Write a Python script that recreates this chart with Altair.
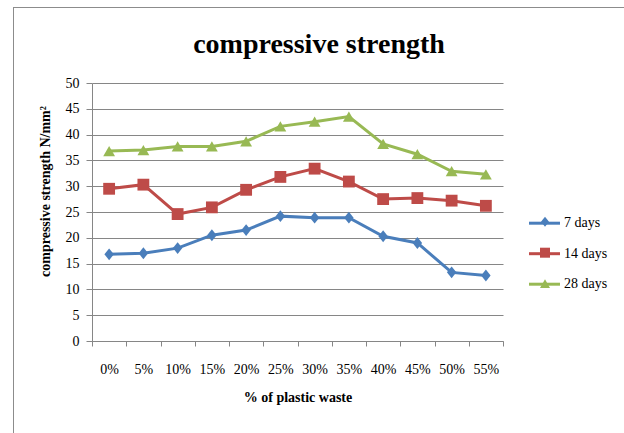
import altair as alt
import pandas as pd

# Plastic waste replacement levels (x categories)
levels = ["0%", "5%", "10%", "15%", "20%", "25%", "30%", "35%", "40%", "45%", "50%", "55%"]

# Compressive strength (N/mm²) at each curing age
series_names = ["7 days", "14 days", "28 days"]
strength_7 = [16.8, 17.0, 18.0, 20.5, 21.5, 24.2, 23.9, 23.9, 20.3, 19.0, 13.3, 12.7]
strength_14 = [29.5, 30.3, 24.6, 25.9, 29.3, 31.8, 33.4, 30.9, 27.5, 27.7, 27.2, 26.2]
strength_28 = [36.8, 37.0, 37.7, 37.7, 38.7, 41.6, 42.5, 43.5, 38.2, 36.2, 32.9, 32.3]

y_ticks = [0, 5, 10, 15, 20, 25, 30, 35, 40, 45, 50]

colors = ["#4A7EBB", "#BE4B48", "#98B954"]
marker_shapes = ["M0,-1L0.8,0L0,1L-0.8,0Z", "square", "triangle-up"]

rows = []
for name, vals in zip(series_names, [strength_7, strength_14, strength_28]):
    for lvl, v in zip(levels, vals):
        rows.append({"level": lvl, "series": name, "value": v})
df = pd.DataFrame(rows)

FONT = "Liberation Serif"

x_enc = alt.X(
    "level:N",
    sort=levels,
    scale=alt.Scale(paddingInner=0, paddingOuter=0),
    axis=alt.Axis(
        title="% of plastic waste",
        labelAngle=0,
        tickBand="extent",
        tickSize=5,
        labelPadding=16,
        titlePadding=14,
        titleFontWeight="bold",
        titleFontSize=14,
        titleFont=FONT,
    ),
)
y_enc = alt.Y(
    "value:Q",
    scale=alt.Scale(domain=[0, 50], nice=False),
    axis=alt.Axis(
        title="compressive strength N/mm²",
        values=y_ticks,
        tickCount=11,
        tickSize=6,
        labelPadding=7,
        labelOverlap=False,
        grid=True,
        titleFontWeight="bold",
        titleFontSize=14,
        titleFont=FONT,
        titleAngle=270,
        titleX=-47,
        titleY=108,
        titleAlign="center",
        titleBaseline="middle",
    ),
)

# line legend (coloured strokes + labels)
line_legend = alt.Legend(
    title=None,
    orient="none",
    legendX=435.5,
    legendY=123.2,
    padding=0,
    rowPadding=6.5,
    symbolSize=961,
    symbolStrokeWidth=3,
    labelOffset=2.5,
    labelFont=FONT,
    labelFontSize=14,
    labelColor="#000000",
)

# marker legend drawn over the middle of each legend line (no labels of its own)
marker_legend = alt.Legend(
    title=None,
    orient="none",
    legendX=446,
    legendY=131.7,
    padding=0,
    rowPadding=17,
    symbolSize=100,
    symbolStrokeWidth=0,
    labelExpr="''",
    labelFont=FONT,
    labelFontSize=14,
)

lines = alt.Chart(df).mark_line(strokeWidth=3).encode(
    x=x_enc,
    y=y_enc,
    stroke=alt.Stroke(
        "series:N", sort=series_names, scale=alt.Scale(range=colors), legend=line_legend
    ),
)

points = alt.Chart(df).mark_point(filled=True, opacity=1, size=140).encode(
    x=x_enc,
    y=y_enc,
    color=alt.Color(
        "series:N", scale=alt.Scale(domain=series_names, range=colors), legend=marker_legend
    ),
    shape=alt.Shape(
        "series:N",
        scale=alt.Scale(domain=series_names, range=marker_shapes),
        legend=marker_legend,
    ),
)

one = pd.DataFrame({"k": [0]})

# chart-area frame (top and left edges)
frame_top = alt.Chart(one).mark_rule(color="#8c8c8c", strokeWidth=1).encode(
    x=alt.value(-79), x2=alt.value(532), y=alt.value(-75.5)
)
frame_left = alt.Chart(one).mark_rule(color="#8c8c8c", strokeWidth=1).encode(
    x=alt.value(-78.5), y=alt.value(-75.5), y2=alt.value(350)
)

title = alt.Chart(one).mark_text(
    font=FONT, fontSize=28, fontWeight="bold", align="center", baseline="alphabetic", color="#000000"
).encode(x=alt.value(227), y=alt.value(-30), text=alt.value("compressive strength"))

chart = (
    alt.layer(lines, points, frame_top, frame_left, title)
    .properties(
        width=411,
        height=258,
        background="white",
        autosize=alt.AutoSizeParams(type="none"),
        padding={"left": 92, "top": 83, "right": 121, "bottom": 92},
    )
    .configure_view(stroke=None)
    .configure_axis(
        labelFont=FONT,
        labelFontSize=14,
        labelColor="#000000",
        titleColor="#000000",
        domainColor="#868686",
        tickColor="#868686",
        gridColor="#868686",
        gridWidth=1,
        domainWidth=1,
    )
)

chart.save("out.html", embed_options={"renderer": "svg", "actions": False})
